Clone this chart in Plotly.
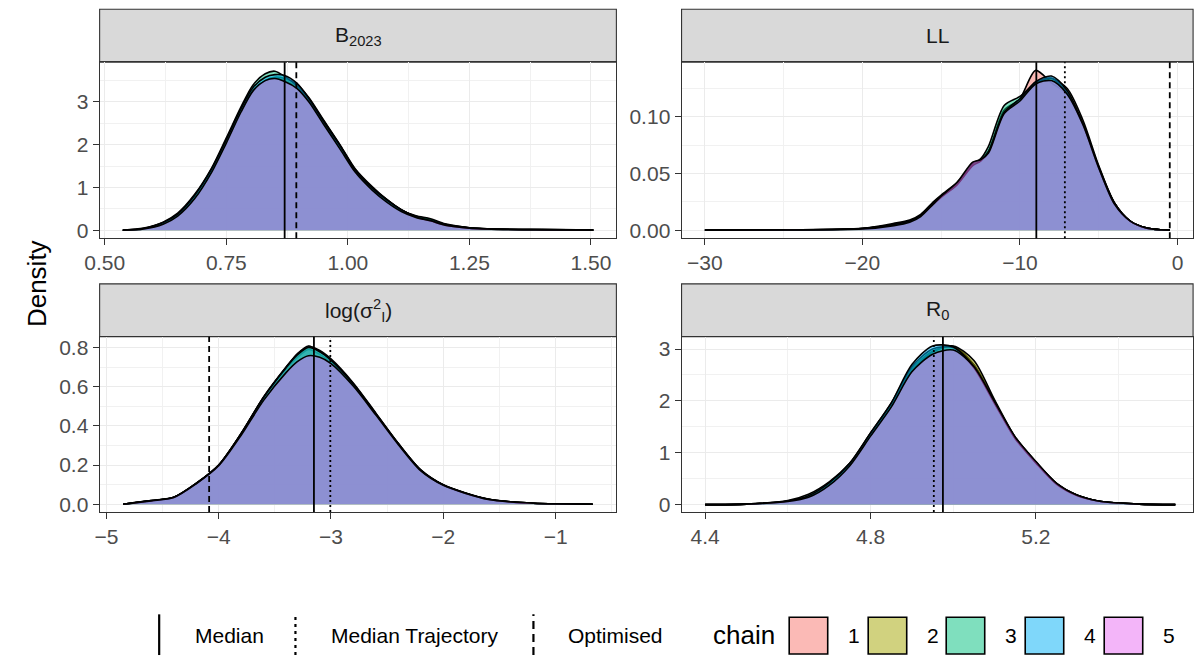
import plotly.graph_objects as go

W, H = 1200, 664
FONT = "Liberation Sans, Arial, sans-serif"

# ---------------- data ----------------
panel_titles = ["B<sub>2023</sub>", "LL", "log(σ<sup>2</sup><sub>I</sub>)", "R<sub>0</sub>"]
chain_labels = ["1", "2", "3", "4", "5"]
chain_colors = ["#F8766D", "#A3A500", "#00BF7D", "#00B0F6", "#E76BF3"]
line_labels = ["Median", "Median Trajectory", "Optimised"]

B_x = [0.537, 0.58, 0.62, 0.65, 0.685, 0.72, 0.75, 0.78, 0.805, 0.83, 0.85, 0.87, 0.895, 0.92,
       0.95, 0.985, 1.015, 1.05, 1.08, 1.11, 1.14, 1.17, 1.20, 1.25, 1.32, 1.40, 1.505]
B_dens = [
    [0, 0.04, 0.17, 0.37, 0.80, 1.42, 2.10, 2.80, 3.28, 3.50, 3.56, 3.50, 3.36, 3.06, 2.56, 1.96, 1.42, 1.00, 0.72, 0.48, 0.32, 0.24, 0.13, 0.06, 0.025, 0.015, 0.005],
    [0, 0.03, 0.16, 0.36, 0.78, 1.40, 2.08, 2.78, 3.26, 3.50, 3.58, 3.55, 3.42, 3.10, 2.58, 1.98, 1.44, 1.02, 0.72, 0.47, 0.33, 0.25, 0.14, 0.06, 0.02, 0.012, 0.004],
    [0, 0.05, 0.19, 0.40, 0.84, 1.46, 2.16, 2.88, 3.40, 3.66, 3.72, 3.60, 3.38, 3.04, 2.52, 1.94, 1.40, 0.98, 0.70, 0.47, 0.34, 0.27, 0.15, 0.06, 0.025, 0.02, 0.005],
    [0, 0.04, 0.18, 0.38, 0.82, 1.44, 2.12, 2.84, 3.34, 3.58, 3.64, 3.62, 3.44, 3.08, 2.55, 1.96, 1.41, 0.99, 0.71, 0.48, 0.31, 0.22, 0.12, 0.05, 0.02, 0.01, 0.004],
    [0, 0.03, 0.14, 0.33, 0.74, 1.36, 2.04, 2.76, 3.26, 3.50, 3.55, 3.48, 3.32, 3.00, 2.48, 1.88, 1.36, 0.94, 0.66, 0.44, 0.30, 0.22, 0.12, 0.05, 0.02, 0.012, 0.004],
]

LL_x = [-30, -25, -20, -18, -17, -16.3, -15.5, -15, -14, -13, -12.5, -12, -11, -10, -9, -8, -7, -6,
        -5, -4, -3, -2, -1, -0.49]
LL_dens = [
    [0, 0.0003, 0.0015, 0.005, 0.008, 0.013, 0.024, 0.030, 0.041, 0.058, 0.062, 0.070, 0.104, 0.116, 0.141, 0.130, 0.120, 0.093, 0.055, 0.024, 0.008, 0.002, 0.0003, 0],
    [0, 0.0003, 0.0016, 0.006, 0.009, 0.014, 0.025, 0.031, 0.042, 0.057, 0.061, 0.069, 0.106, 0.115, 0.130, 0.134, 0.125, 0.097, 0.057, 0.024, 0.008, 0.002, 0.0003, 0],
    [0, 0.0003, 0.0015, 0.005, 0.008, 0.013, 0.024, 0.030, 0.040, 0.059, 0.063, 0.074, 0.110, 0.118, 0.130, 0.134, 0.121, 0.093, 0.055, 0.023, 0.008, 0.002, 0.0003, 0],
    [0, 0.0003, 0.0014, 0.005, 0.008, 0.013, 0.023, 0.029, 0.040, 0.057, 0.061, 0.069, 0.104, 0.116, 0.131, 0.136, 0.123, 0.094, 0.056, 0.024, 0.008, 0.002, 0.0003, 0],
    [0, 0.0002, 0.0010, 0.004, 0.007, 0.012, 0.023, 0.030, 0.042, 0.060, 0.062, 0.068, 0.103, 0.114, 0.129, 0.132, 0.120, 0.093, 0.055, 0.023, 0.008, 0.002, 0.0003, 0],
]

LS_x = [-4.85, -4.6, -4.4, -4.2, -4.0, -3.8, -3.6, -3.4, -3.3, -3.2, -3.1, -3.0, -2.8, -2.6, -2.4,
        -2.2, -2.0, -1.8, -1.6, -1.4, -1.2, -1.0, -0.67]
LS_dens = [
    [0, 0.018, 0.035, 0.105, 0.198, 0.358, 0.542, 0.690, 0.750, 0.790, 0.765, 0.725, 0.605, 0.455, 0.305, 0.172, 0.098, 0.056, 0.025, 0.012, 0.005, 0.002, 0],
    [0, 0.017, 0.034, 0.106, 0.200, 0.360, 0.546, 0.698, 0.765, 0.805, 0.785, 0.742, 0.618, 0.465, 0.310, 0.174, 0.097, 0.055, 0.025, 0.012, 0.005, 0.002, 0],
    [0, 0.019, 0.036, 0.107, 0.200, 0.362, 0.548, 0.700, 0.768, 0.808, 0.780, 0.736, 0.614, 0.462, 0.310, 0.175, 0.099, 0.057, 0.026, 0.012, 0.005, 0.002, 0],
    [0, 0.018, 0.035, 0.106, 0.199, 0.360, 0.545, 0.697, 0.762, 0.800, 0.778, 0.735, 0.612, 0.461, 0.308, 0.173, 0.098, 0.056, 0.025, 0.012, 0.005, 0.002, 0],
    [0, 0.017, 0.034, 0.104, 0.196, 0.352, 0.530, 0.672, 0.728, 0.758, 0.750, 0.718, 0.602, 0.455, 0.304, 0.170, 0.096, 0.055, 0.024, 0.011, 0.005, 0.002, 0],
]

R_x = [4.40, 4.50, 4.60, 4.65, 4.70, 4.75, 4.80, 4.85, 4.90, 4.95, 5.00, 5.05, 5.10, 5.15, 5.20,
       5.25, 5.30, 5.35, 5.40, 5.45, 5.537]
R_dens = [
    [0, 0.01, 0.07, 0.15, 0.40, 0.78, 1.36, 1.93, 2.62, 2.96, 3.05, 2.70, 1.99, 1.29, 0.82, 0.40, 0.18, 0.07, 0.03, 0.01, 0],
    [0, 0.01, 0.06, 0.14, 0.38, 0.76, 1.34, 1.90, 2.58, 2.94, 3.06, 2.78, 2.02, 1.30, 0.82, 0.41, 0.18, 0.07, 0.03, 0.01, 0],
    [0, 0.01, 0.08, 0.20, 0.44, 0.80, 1.38, 1.95, 2.66, 3.00, 3.03, 2.66, 1.96, 1.27, 0.81, 0.40, 0.18, 0.07, 0.03, 0.01, 0],
    [0, 0.01, 0.07, 0.17, 0.42, 0.80, 1.38, 1.96, 2.70, 3.06, 3.04, 2.64, 1.95, 1.27, 0.80, 0.39, 0.17, 0.07, 0.03, 0.01, 0],
    [0, 0.01, 0.06, 0.14, 0.37, 0.75, 1.32, 1.88, 2.56, 2.90, 2.98, 2.66, 1.98, 1.30, 0.83, 0.41, 0.18, 0.07, 0.03, 0.01, 0],
]

median_vals = [0.870, -8.96, -3.152, 4.975]
median_traj_vals = [None, -7.15, -3.006, 4.953]
optimised_vals = [0.894, -0.49, -4.085, None]

# ---------------- layout helpers ----------------
def px_x(p):
    return p / W

def px_y(p):
    return 1 - p / H

col_dom = [(85.7, 609), (675, 1193)]
row_plot = [(61.7, 239), (338.3, 515)]
row_strip = [(8.3, 61.7), (285, 338.3)]

TICK_SIZE = 21
panels = [
    dict(x=B_x, d=B_dens, xr=[0.4894, 1.5524], yr=[-0.186, 3.93], xt0=0.5, xdt=0.25, xfmt=".2f",
         yt0=0, ydt=1, yfmt="d"),
    dict(x=LL_x, d=LL_dens, xr=[-31.48, 0.99], yr=[-0.0071, 0.1482], xt0=-30, xdt=10, xfmt="d",
         yt0=0, ydt=0.05, yfmt=".2f"),
    dict(x=LS_x, d=LS_dens, xr=[-5.06, -0.459], yr=[-0.0405, 0.855], xt0=-5, xdt=1, xfmt="d",
         yt0=0, ydt=0.2, yfmt=".1f"),
    dict(x=R_x, d=R_dens, xr=[4.343, 5.580], yr=[-0.145, 3.237], xt0=4.4, xdt=0.4, xfmt=".1f",
         yt0=0, ydt=1, yfmt="d"),
]

def rgba(hexc, a):
    h = hexc.lstrip("#")
    return "rgba(%d,%d,%d,%s)" % (int(h[0:2], 16), int(h[2:4], 16), int(h[4:6], 16), a)

fig = go.Figure()
shapes = []
annotations = []

for i, p in enumerate(panels):
    r, c = divmod(i, 2)
    ax = "" if i == 0 else str(i + 1)
    xa, ya = "x" + ax, "y" + ax
    for k in range(5):
        fig.add_trace(go.Scatter(
            x=p["x"], y=p["d"][k], xaxis=xa, yaxis=ya, mode="lines",
            line=dict(color="black", width=1.6, shape="spline", smoothing=0.8),
            fill="tozeroy", fillcolor=rgba(chain_colors[k], 0.5),
            name=chain_labels[k], showlegend=False, hoverinfo="skip"))
    gridc = "#EBEBEB"
    common = dict(showgrid=True, gridcolor=gridc, gridwidth=1.1, zeroline=False,
                  showline=True, linecolor="#333333", linewidth=1.1, mirror=True,
                  ticks="outside", ticklen=6, tickwidth=1.1, tickcolor="#333333",
                  tickfont=dict(family=FONT, size=TICK_SIZE, color="#4D4D4D"), fixedrange=True,
                  tickmode="linear")
    fig.update_layout(**{
        ("xaxis" + ax): dict(
            domain=[px_x(col_dom[c][0]), px_x(col_dom[c][1])], anchor=ya, range=p["xr"],
            tick0=p["xt0"], dtick=p["xdt"], tickformat=p["xfmt"],
            minor=dict(tick0=p["xt0"], dtick=p["xdt"] / 2, showgrid=True, gridcolor="#F1F1F1",
                       gridwidth=0.6, ticks=""), **common),
        ("yaxis" + ax): dict(
            domain=[px_y(row_plot[r][1]), px_y(row_plot[r][0])], anchor=xa, range=p["yr"],
            tick0=p["yt0"], dtick=p["ydt"], tickformat=p["yfmt"],
            minor=dict(tick0=p["yt0"], dtick=p["ydt"] / 2, showgrid=True, gridcolor="#F1F1F1",
                       gridwidth=0.6, ticks=""), **common),
    })
    # reference lines
    for vals, dash in ((median_vals, "solid"), (median_traj_vals, "2px,3px"), (optimised_vals, "6px,4px")):
        v = vals[i]
        if v is None:
            continue
        shapes.append(dict(type="line", xref=xa, yref=ya + " domain", x0=v, x1=v, y0=0, y1=1,
                           line=dict(color="black", width=1.8, dash=dash), layer="above"))
    # strip
    x0, x1 = px_x(col_dom[c][0]), px_x(col_dom[c][1])
    s0, s1 = px_y(row_strip[r][1]), px_y(row_strip[r][0])
    shapes.append(dict(type="rect", xref="paper", yref="paper", x0=x0, x1=x1, y0=s0, y1=s1,
                       fillcolor="#D9D9D9", line=dict(color="#333333", width=1.1), layer="below"))
    annotations.append(dict(text=panel_titles[i], xref="paper", yref="paper",
                            x=(x0 + x1) / 2, y=(s0 + s1) / 2, xanchor="center", yanchor="middle",
                            showarrow=False, font=dict(family=FONT, size=21, color="#1A1A1A")))

# y-axis title
annotations.append(dict(text="Density", xref="paper", yref="paper", x=px_x(22.5), y=px_y(285),
                        textangle=-90, showarrow=False, xanchor="center", yanchor="middle",
                        font=dict(family=FONT, size=26, color="black")))

# ---------------- legend (drawn) ----------------
leg_y0, leg_y1, leg_mid = 618, 659, 639
key_x = [146, 284, 525]
text_x = [180, 318, 558]
key_dash = ["solid", "3px,4px", "8px,5px"]
for j in range(3):
    shapes.append(dict(type="line", xref="paper", yref="paper", x0=px_x(key_x[j]), x1=px_x(key_x[j]),
                       y0=px_y(leg_y1), y1=px_y(leg_y0),
                       line=dict(color="black", width=2.2, dash=key_dash[j])))
    annotations.append(dict(text=line_labels[j], xref="paper", yref="paper", x=px_x(text_x[j]),
                            y=px_y(leg_mid), xanchor="left", yanchor="middle", showarrow=False,
                            font=dict(family=FONT, size=21, color="black")))

annotations.append(dict(text="chain", xref="paper", yref="paper", x=px_x(705), y=px_y(leg_mid),
                        xanchor="left", yanchor="middle", showarrow=False,
                        font=dict(family=FONT, size=26, color="black")))
sq_x = [784, 864, 943, 1023, 1103]
for k in range(5):
    shapes.append(dict(type="rect", xref="paper", yref="paper", x0=px_x(sq_x[k]), x1=px_x(sq_x[k] + 39),
                       y0=px_y(658), y1=px_y(621), fillcolor=rgba(chain_colors[k], 0.5),
                       line=dict(color="black", width=1.6)))
    annotations.append(dict(text=chain_labels[k], xref="paper", yref="paper", x=px_x(sq_x[k] + 58),
                            y=px_y(leg_mid), xanchor="left", yanchor="middle", showarrow=False,
                            font=dict(family=FONT, size=21, color="black")))

fig.update_layout(width=W, height=H, margin=dict(l=0, r=0, t=0, b=0),
                  paper_bgcolor="white", plot_bgcolor="white", showlegend=False,
                  shapes=shapes, annotations=annotations, font=dict(family=FONT))

fig.write_html("out.html", config={"displayModeBar": False},
               post_script="document.body.style.margin='0px';document.body.style.overflow='hidden';")
